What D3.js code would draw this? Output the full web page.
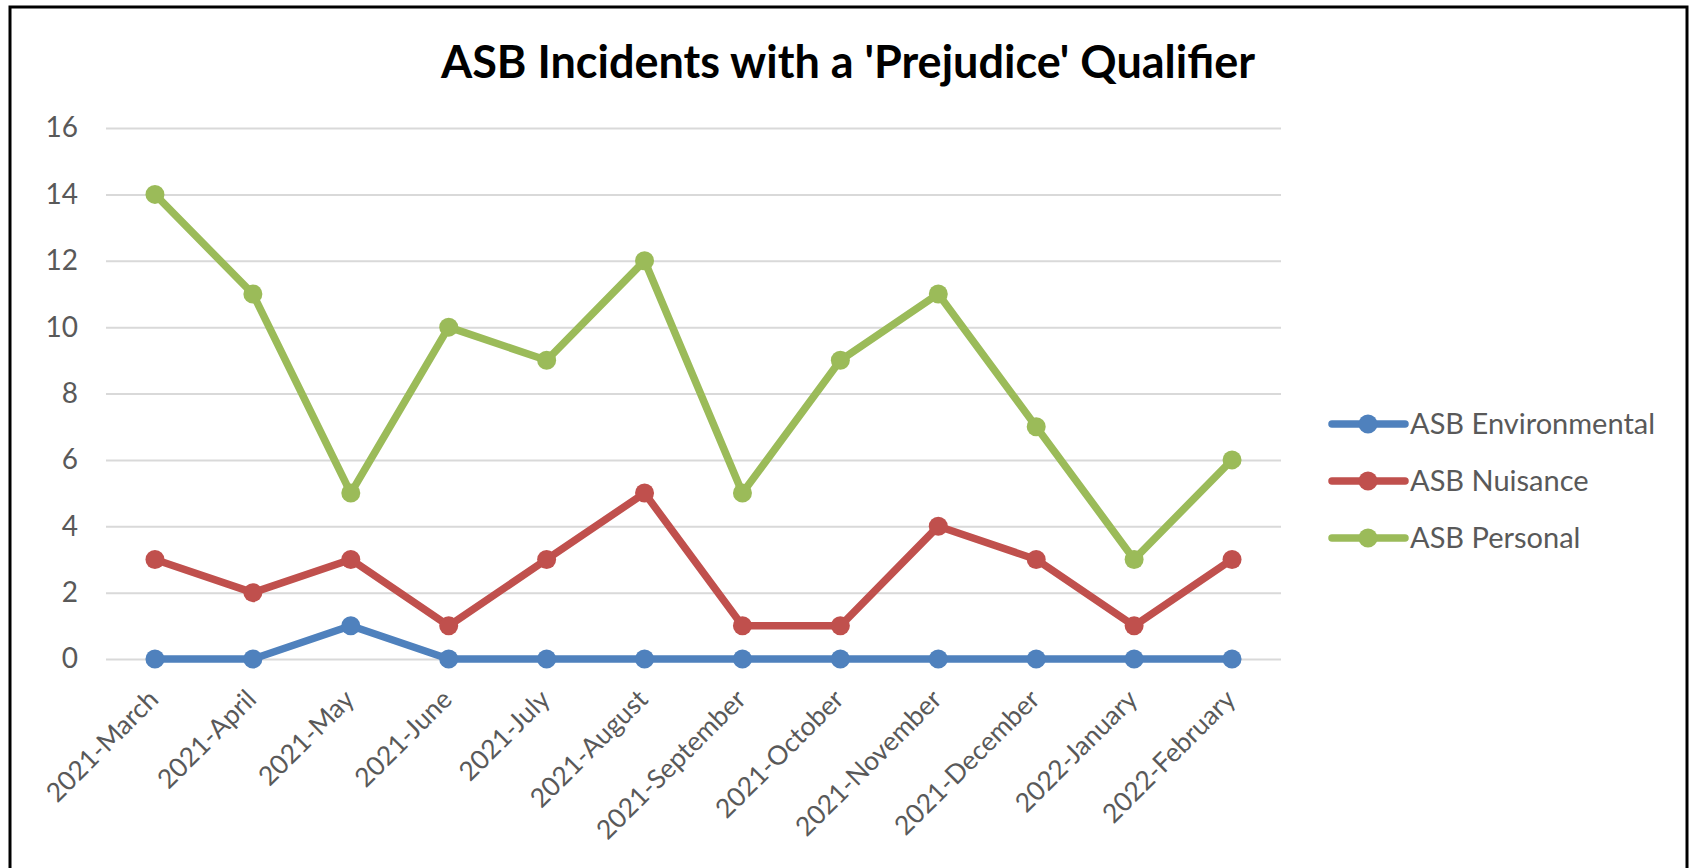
<!DOCTYPE html>
<html lang="en">
<head>
  <meta charset="UTF-8">
  <title>ASB Incidents with a 'Prejudice' Qualifier</title>
  <script src="https://d3js.org/d3.v7.min.js"></script>
  <style>
    body { margin: 0; background: #fff; }
    text { font-family: Lato, "Open Sans", sans-serif; }
  </style>
</head>
<body>
  <svg width="1690" height="868"></svg>
  <script>
    // Data
    const months = ['2021-March', '2021-April', '2021-May', '2021-June', '2021-July', '2021-August',
      '2021-September', '2021-October', '2021-November', '2021-December', '2022-January', '2022-February'];
    const environmental = [0, 0, 1, 0, 0, 0, 0, 0, 0, 0, 0, 0];
    const nuisance = [3, 2, 3, 1, 3, 5, 1, 1, 4, 3, 1, 3];
    const personal = [14, 11, 5, 10, 9, 12, 5, 9, 11, 7, 3, 6];
    const seriesNames = ['ASB Environmental', 'ASB Nuisance', 'ASB Personal'];
    const seriesColors = ['#4F81BD', '#C0504D', '#9BBB59'];
    const yTicks = [0, 2, 4, 6, 8, 10, 12, 14, 16];

    const series = [environmental, nuisance, personal].map((values, i) => ({
      name: seriesNames[i], color: seriesColors[i], values
    }));

    const svg = d3.select('svg');

    // Outer border of the chart box
    svg.append('rect')
      .attr('x', 10).attr('y', 7)
      .attr('width', 1677).attr('height', 880)
      .attr('fill', 'none')
      .attr('stroke', '#000')
      .attr('stroke-width', 3);

    const plotLeft = 106, plotRight = 1281, plotTop = 128, plotBottom = 659;

    const x = d3.scaleBand().domain(months).range([plotLeft, plotRight]);
    const y = d3.scaleLinear().domain([0, 16]).range([plotBottom, plotTop]);

    // Title
    svg.append('text')
      .attr('x', 848).attr('y', 78)
      .attr('text-anchor', 'middle')
      .attr('font-size', 45)
      .attr('font-weight', 'bold')
      .attr('fill', '#000')
      .text("ASB Incidents with a 'Prejudice' Qualifier");

    // Y axis with gridlines
    const yAxis = svg.append('g')
      .attr('transform', `translate(${plotLeft},0)`)
      .call(d3.axisLeft(y).tickValues(yTicks).tickSize(-(plotRight - plotLeft)).tickPadding(28));
    yAxis.select('.domain').remove();
    yAxis.selectAll('line').attr('stroke', '#D9D9D9').attr('stroke-width', 2);
    yAxis.selectAll('text').attr('font-size', 28).attr('fill', '#595959');

    // X axis labels
    const xAxis = svg.append('g')
      .attr('transform', `translate(0,${plotBottom})`)
      .call(d3.axisBottom(x).tickSize(0));
    xAxis.select('.domain').remove();
    xAxis.selectAll('text')
      .attr('font-size', 26.5)
      .attr('fill', '#595959')
      .attr('text-anchor', 'end')
      .attr('y', 0).attr('dy', 0)
      .attr('transform', 'translate(5,42) rotate(-45)');

    const cx = d => x(d) + x.bandwidth() / 2;

    const line = d3.line()
      .x((d, i) => cx(months[i]))
      .y(d => y(d));

    const g = svg.append('g');
    series.forEach(s => {
      g.append('path')
        .datum(s.values)
        .attr('d', line)
        .attr('fill', 'none')
        .attr('stroke', s.color)
        .attr('stroke-width', 7.5)
        .attr('stroke-linejoin', 'round');
      g.selectAll(null)
        .data(s.values)
        .enter()
        .append('circle')
        .attr('cx', (d, i) => cx(months[i]))
        .attr('cy', d => y(d))
        .attr('r', 9.5)
        .attr('fill', s.color);
    });

    // Legend
    const legend = svg.append('g')
      .selectAll('g')
      .data(series)
      .enter()
      .append('g')
      .attr('transform', (d, i) => `translate(1332,${424 + i * 57})`);
    legend.append('line')
      .attr('x1', 0).attr('x2', 73)
      .attr('stroke', d => d.color)
      .attr('stroke-width', 7.5)
      .attr('stroke-linecap', 'round');
    legend.append('circle')
      .attr('cx', 36).attr('r', 9.5)
      .attr('fill', d => d.color);
    legend.append('text')
      .attr('x', 78)
      .attr('dy', '0.35em')
      .attr('font-size', 29)
      .attr('fill', '#595959')
      .text(d => d.name);
  </script>
</body>
</html>
